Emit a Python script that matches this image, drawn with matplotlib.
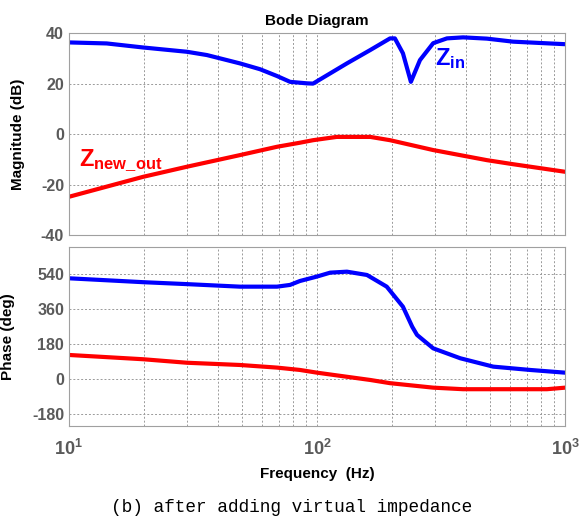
import numpy as np
import matplotlib
matplotlib.use("Agg")
import matplotlib.pyplot as plt

plt.rcParams['font.family'] = ['Liberation Sans', 'DejaVu Sans']
plt.rcParams['mathtext.fontset'] = 'custom'
plt.rcParams['mathtext.rm'] = 'Liberation Sans:bold'
plt.rcParams['mathtext.bf'] = 'Liberation Sans:bold'
plt.rcParams['mathtext.it'] = 'Liberation Sans:bold'

# magnitude, Z_in (blue)
f_mag_in = [10, 14.2, 19.9, 29.9, 36, 48.9, 58.9, 69, 77.9, 91.2, 96.4, 132, 164,
            197, 206, 222, 239, 260, 294, 334, 388, 484, 617, 1000]
mag_in = [36.3, 35.9, 34.3, 32.6, 31.3, 28, 25.7, 23, 20.7, 20.1, 20.0, 28, 33.3,
          37.9, 37.9, 32, 20.7, 29.3, 36, 37.9, 38.3, 37.8, 36.6, 35.6]

# magnitude, Z_new_out (red)
f_mag_out = [10, 19.9, 29.9, 48.9, 69, 85.3, 96.4, 120, 164, 197, 294, 484, 617, 1000]
mag_out = [-24.8, -16.9, -12.9, -8.3, -5.0, -3.4, -2.4, -1.1, -1.1, -2.4, -6.3,
           -10.3, -11.9, -14.9]

# phase, Z_in (blue)
f_ph_in = [10, 19.9, 29.9, 48.9, 69, 77.9, 85.3, 100, 113, 132, 159, 191, 222,
           242, 253, 294, 378, 513, 722, 1000]
ph_in = [519, 499, 489, 476, 476, 485, 505, 528, 548, 553, 536, 476, 373,
         270, 228, 159, 108, 65, 48, 34]

# phase, Z_new_out (red)
f_ph_out = [10, 19.9, 29.9, 48.9, 69, 85.3, 100, 164, 197, 294, 388, 845, 1000]
ph_out = [125, 103, 85, 73.5, 60, 48, 34, -3.6, -20, -43, -51, -51, -43]

mag_ticks = [-40, -20, 0, 20, 40]
ph_ticks = [-180, 0, 180, 360, 540]
freq_ticks = [10, 100, 1000]
freq_labels = [r'$\mathregular{10^{1}}$', r'$\mathregular{10^{2}}$', r'$\mathregular{10^{3}}$']

fig = plt.figure(figsize=(5.79, 5.25), dpi=100)
ax1 = fig.add_axes([0.119, 0.552, 0.857, 0.385])
ax2 = fig.add_axes([0.119, 0.1886, 0.857, 0.341])

tick_col = '#5a5a5a'
for ax in (ax1, ax2):
    ax.set_xscale('log')
    ax.set_xlim(10, 1000)
    ax.grid(True, which='both', linestyle=(0, (2, 2)), color='#9a9a9a', linewidth=0.7)
    for s in ax.spines.values():
        s.set_color('#a0a0a0')
    ax.tick_params(which='both', length=0, colors=tick_col, labelsize=11.5)

ax1.plot(f_mag_in, mag_in, color='#0000ff', lw=3)
ax1.plot(f_mag_out, mag_out, color='#ff0000', lw=3)
ax1.set_ylim(-40, 40)
ax1.set_yticks(mag_ticks)
ax1.set_yticklabels([str(t) for t in mag_ticks], fontweight='bold')
ax1.tick_params(axis='x', labelbottom=False)
ax1.set_ylabel('Magnitude (dB)', fontweight='bold', fontsize=11)
ax1.yaxis.set_label_coords(-0.089, 0.5)
ax1.set_title('Bode Diagram', fontweight='bold', fontsize=11, pad=6)

ax1.text(300, 30, r'$\mathregular{Z_{in}}$', color='#0000ff', fontsize=17,
         fontweight='bold', va='center', ha='left')
ax1.text(11.0, -10.5, r'$\mathregular{Z_{new\_out}}$', color='#ff0000', fontsize=17,
         fontweight='bold', va='center', ha='left')

ax2.plot(f_ph_in, ph_in, color='#0000ff', lw=3)
ax2.plot(f_ph_out, ph_out, color='#ff0000', lw=3)
ax2.set_ylim(-240, 680)
ax2.set_yticks(ph_ticks)
ax2.set_yticklabels([str(t) for t in ph_ticks], fontweight='bold')
ax2.set_xticks(freq_ticks)
ax2.set_xticklabels(freq_labels, fontweight='bold', fontsize=13)
ax2.tick_params(axis='x', which='major', pad=9)
ax2.set_ylabel('Phase (deg)', fontweight='bold', fontsize=11)
ax2.yaxis.set_label_coords(-0.109, 0.5)
ax2.set_xlabel('Frequency  (Hz)', fontweight='bold', fontsize=11, labelpad=6)

fig.text(0.503, 0.034, '(b) after adding virtual impedance', ha='center', va='center',
         fontsize=12.8, family=['Liberation Mono', 'DejaVu Sans Mono'])

fig.savefig('out.png', dpi=100)
